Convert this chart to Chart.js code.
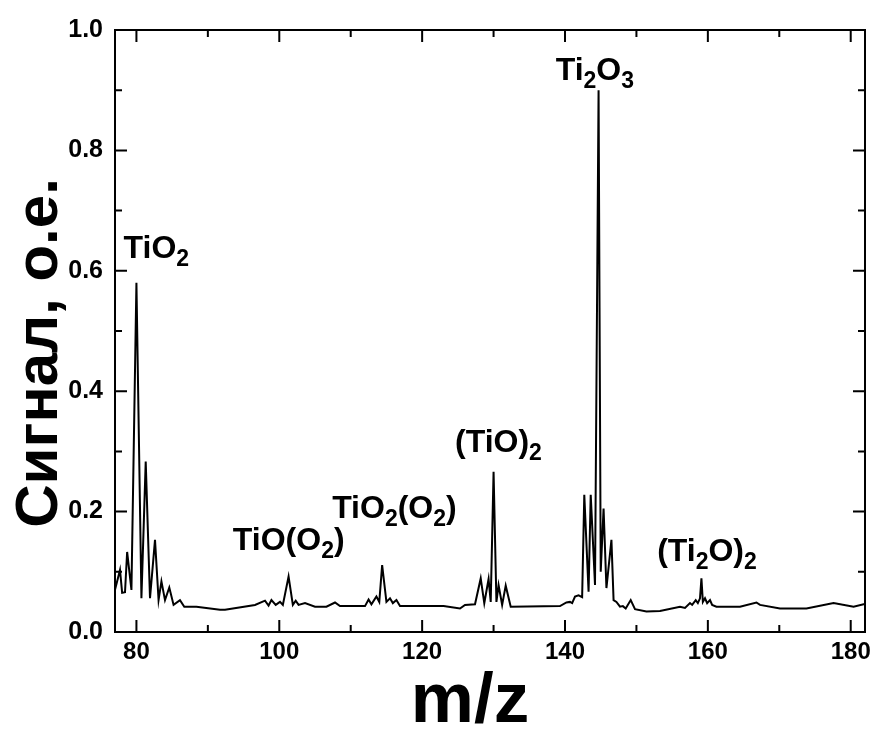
<!DOCTYPE html>
<html>
<head>
<meta charset="utf-8">
<script src="https://cdn.jsdelivr.net/npm/chart.js@4"></script>
<style>
  html, body { margin: 0; padding: 0; background: #fff; }
  #wrap { width: 874px; height: 734px; }
</style>
</head>
<body>
<div id="wrap"><canvas id="chart"></canvas></div>
<script>
// m/z values and signal
const mz = [77.0, 77.7, 78.0, 78.4, 78.7, 79.3, 80.0, 80.7, 81.3, 81.9, 82.6, 83.1, 83.5, 84.0, 84.6, 85.2, 86.1, 86.7, 88.4, 91.7,
  92.4, 96.6, 98.0, 98.5, 98.9, 99.5, 100.1, 100.5, 101.3, 101.9, 102.3, 102.7, 103.6, 105.0, 106.6, 107.8, 108.5,
  112.0, 112.5, 112.9, 113.6, 114.0, 114.4, 115.0, 115.5, 115.9, 116.4, 116.9, 122.5, 123.0, 125.3, 126.0, 127.4,
  128.2, 128.7, 129.3, 129.6, 130.0, 130.4, 130.7, 131.2, 131.7, 132.4, 139.3, 140.2, 140.7, 141.0, 141.4, 141.9, 142.4,
  142.7, 143.3, 143.6, 144.2, 144.7, 145.0, 145.4, 145.8, 146.5, 146.8, 147.2, 147.7, 148.1, 148.5, 149.2, 149.8, 151.4,
  153.3, 156.1, 156.8, 157.5, 157.8, 158.3, 158.6, 158.9, 159.1, 159.3, 159.6, 159.9, 160.3, 160.6, 161.2, 164.5,
  166.8, 167.3, 170.1, 173.8, 177.6, 180.4, 181.8, 182.0];
const signal = [0.070, 0.103, 0.065, 0.066, 0.133, 0.070, 0.580, 0.056, 0.283, 0.056, 0.153, 0.053, 0.084, 0.053, 0.074, 0.045, 0.053, 0.042, 0.042, 0.037,
  0.037, 0.045, 0.052, 0.044, 0.053, 0.045, 0.050, 0.045, 0.092, 0.045, 0.052, 0.045, 0.048, 0.042, 0.042, 0.049, 0.043,
  0.043, 0.054, 0.046, 0.059, 0.050, 0.111, 0.050, 0.056, 0.048, 0.053, 0.043, 0.043, 0.043, 0.039, 0.045, 0.046,
  0.089, 0.048, 0.088, 0.050, 0.266, 0.050, 0.078, 0.045, 0.077, 0.042, 0.043, 0.049, 0.050, 0.048, 0.059, 0.061, 0.058,
  0.228, 0.067, 0.228, 0.078, 0.900, 0.100, 0.205, 0.073, 0.153, 0.053, 0.050, 0.042, 0.043, 0.039, 0.053, 0.038, 0.034,
  0.035, 0.042, 0.040, 0.048, 0.045, 0.053, 0.048, 0.056, 0.089, 0.050, 0.056, 0.048, 0.053, 0.045, 0.042, 0.042,
  0.049, 0.045, 0.039, 0.039, 0.048, 0.042, 0.046, 0.046];

const xTicks = [80, 100, 120, 140, 160, 180];
const xMinor = [90, 110, 130, 150, 170];
const yTicks = [0.0, 0.2, 0.4, 0.6, 0.8, 1.0];
const yMinor = [0.1, 0.3, 0.5, 0.7, 0.9];

const xTitle = 'm/z';
const yTitle = 'Сигнал, о.е.';

// peak labels: [text, subscript flag] pieces, anchored at left/baseline in data units
const peakLabels = [
  { parts: [['TiO', 0], ['2', 1]], x: 78.2, y: 0.621 },
  { parts: [['TiO(O', 0], ['2', 1], [')', 0]], x: 93.5, y: 0.136 },
  { parts: [['TiO', 0], ['2', 1], ['(O', 0], ['2', 1], [')', 0]], x: 107.4, y: 0.189 },
  { parts: [['(TiO)', 0], ['2', 1]], x: 124.6, y: 0.299 },
  { parts: [['Ti', 0], ['2', 1], ['O', 0], ['3', 1]], x: 138.7, y: 0.917 },
  { parts: [['(Ti', 0], ['2', 1], ['O)', 0], ['2', 1]], x: 152.9, y: 0.118 }
];

const FONT = '"Liberation Sans", Arial, sans-serif';

// inward ticks on all four sides, frame, tick labels, titles and peak labels
const frame = {
  id: 'frame',
  afterDraw(c) {
    const ctx = c.ctx, a = c.chartArea;
    const xs = c.scales.x, ys = c.scales.y;
    ctx.save();
    ctx.strokeStyle = '#000';
    ctx.lineWidth = 2;
    ctx.strokeRect(a.left, a.top, a.right - a.left, a.bottom - a.top);
    ctx.beginPath();
    const tx = (v, len) => {
      const p = xs.getPixelForValue(v);
      ctx.moveTo(p, a.bottom); ctx.lineTo(p, a.bottom - len);
      ctx.moveTo(p, a.top); ctx.lineTo(p, a.top + len);
    };
    const ty = (v, len) => {
      const p = ys.getPixelForValue(v);
      ctx.moveTo(a.left, p); ctx.lineTo(a.left + len, p);
      ctx.moveTo(a.right, p); ctx.lineTo(a.right - len, p);
    };
    xTicks.forEach(v => tx(v, 12));
    xMinor.forEach(v => tx(v, 7));
    yTicks.forEach(v => ty(v, 12));
    yMinor.forEach(v => ty(v, 7));
    ctx.stroke();

    ctx.fillStyle = '#000';

    // tick labels
    ctx.font = 'bold 24px ' + FONT;
    ctx.textAlign = 'center';
    ctx.textBaseline = 'middle';
    xTicks.forEach(v => ctx.fillText(String(v), xs.getPixelForValue(v), a.bottom + 20));
    ctx.font = 'bold 25px ' + FONT;
    ctx.textAlign = 'right';
    yTicks.forEach(v => ctx.fillText(v.toFixed(1), a.left - 12, ys.getPixelForValue(v)));

    // axis titles
    ctx.textBaseline = 'alphabetic';
    ctx.textAlign = 'center';
    ctx.font = 'bold 71px ' + FONT;
    ctx.fillText(xTitle, 470, 722);
    ctx.save();
    ctx.translate(57, 353);
    ctx.rotate(-Math.PI / 2);
    ctx.font = 'bold 60px ' + FONT;
    ctx.fillText(yTitle, 0, 0);
    ctx.restore();

    // peak labels
    ctx.textAlign = 'left';
    peakLabels.forEach(l => {
      let px = xs.getPixelForValue(l.x);
      const py = ys.getPixelForValue(l.y);
      l.parts.forEach(([t, sub]) => {
        ctx.font = sub ? 'bold 23px ' + FONT : 'bold 32px ' + FONT;
        ctx.fillText(t, px, sub ? py + 8 : py);
        px += ctx.measureText(t).width;
      });
    });
    ctx.restore();
  }
};

new Chart(document.getElementById('chart'), {
  type: 'line',
  data: {
    datasets: [{
      data: mz.map((m, i) => ({ x: m, y: signal[i] })),
      borderColor: '#000',
      borderWidth: 2,
      pointRadius: 0,
      tension: 0,
      fill: false
    }]
  },
  options: {
    responsive: true,
    maintainAspectRatio: false,
    animation: false,
    layout: { padding: { top: 30, right: 9, left: 115, bottom: 102 } },
    plugins: { legend: { display: false }, tooltip: { enabled: false } },
    scales: {
      x: {
        type: 'linear',
        min: 77, max: 182,
        grid: { display: false, drawTicks: false },
        border: { display: false },
        ticks: { display: false }
      },
      y: {
        type: 'linear',
        min: 0, max: 1,
        grid: { display: false, drawTicks: false },
        border: { display: false },
        ticks: { display: false }
      }
    }
  },
  plugins: [frame]
});
</script>
</body>
</html>
